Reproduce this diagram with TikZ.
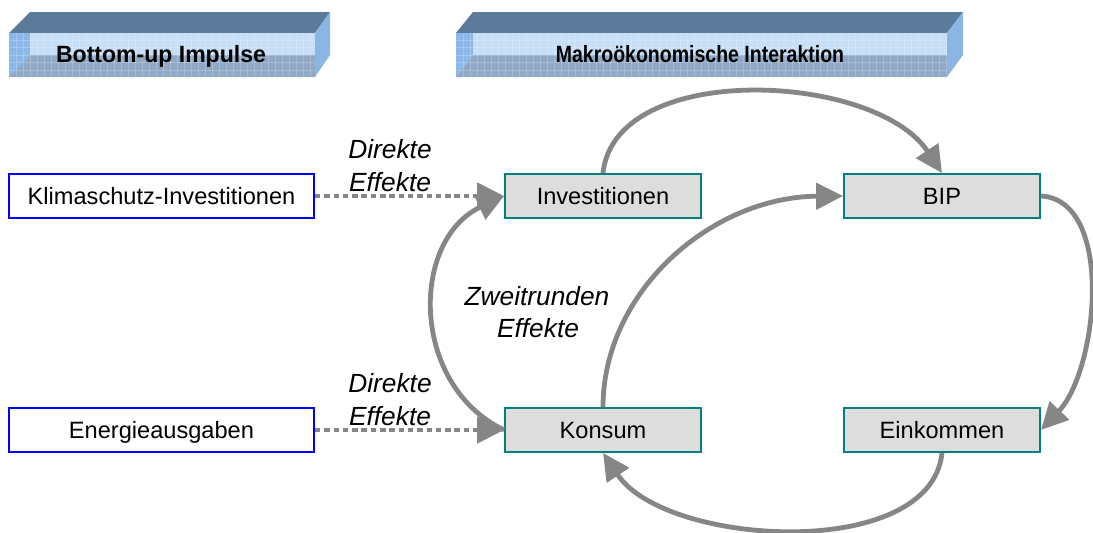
\documentclass[tikz,border=0pt]{standalone}
\usepackage{fontspec}
\setmainfont{Liberation Sans}
\usetikzlibrary{arrows.meta}
\definecolor{arrowgray}{HTML}{868686}
\definecolor{tealline}{HTML}{008080}
\definecolor{boxgray}{HTML}{DDDDDD}
\definecolor{topface}{HTML}{5C7A99}
\definecolor{frontface}{HTML}{C6DEF6}
\definecolor{bandface}{HTML}{8FA9C6}
\definecolor{leftface}{HTML}{8CB9E9}
\definecolor{sideface}{HTML}{8BB5E2}
\begin{document}
\begin{tikzpicture}[x=1pt,y=-1pt,
  macro/.style={draw=tealline, fill=boxgray, line width=1.8pt, minimum width=196pt, minimum height=44pt, inner sep=0pt, text height=17pt, text depth=0pt, font=\fontsize{23.6}{28}\selectfont},
  impulse/.style={draw=blue, fill=white, line width=1.8pt, minimum width=305pt, minimum height=44pt, inner sep=0pt, text height=17pt, text depth=0pt, font=\fontsize{23.6}{28}\selectfont},
  hdr/.style={anchor=base, inner sep=0pt, font=\bfseries\fontsize{23.5}{28}\selectfont},
  lbl/.style={anchor=base, inner sep=0pt, font=\itshape\fontsize{26.3}{30}\selectfont},
  curvearrow/.style={draw=arrowgray, line width=4.8pt, -{Triangle[length=27pt,width=26pt]}},
  dotarrow/.style={curvearrow, dash pattern=on 5.5pt off 3.8pt},
  gridline/.style={white, opacity=0.2, line width=0.6pt}
]
\useasboundingbox (0,0) rectangle (1093,533);
% left header bar
\fill[topface] (9,33) -- (30,12) -- (330,12) -- (315,33) -- cycle;
\fill[sideface] (315,33) -- (330,12) -- (330,55) -- (315,77) -- cycle;
\fill[frontface] (9,33) rectangle (315,77);
\fill[bandface] (9,77) -- (30,55) -- (315,55) -- (315,77) -- cycle;
\fill[leftface] (9,33) -- (30,33) -- (30,55) -- (9,77) -- cycle;
\foreach \yy in {40,47,55,62,70} \draw[gridline] (9,\yy) -- (315,\yy);
\foreach \xx in {16,23,...,315} \draw[gridline] (\xx,33) -- (\xx,77);
\node[hdr] (h1) at (161,62) {\scalebox{0.98}[1]{Bottom-up Impulse}};
% right header bar
\fill[topface] (456,33) -- (473,12) -- (963,12) -- (947,33) -- cycle;
\fill[sideface] (947,33) -- (963,12) -- (963,55) -- (947,77) -- cycle;
\fill[frontface] (456,33) rectangle (947,77);
\fill[bandface] (456,77) -- (473,55) -- (947,55) -- (947,77) -- cycle;
\fill[leftface] (456,33) -- (473,33) -- (473,55) -- (456,77) -- cycle;
\foreach \yy in {40,47,55,62,70} \draw[gridline] (456,\yy) -- (947,\yy);
\foreach \xx in {463,470,...,947} \draw[gridline] (\xx,33) -- (\xx,77);
\node[hdr] (h2) at (700,62) {\scalebox{0.83}[1]{Makroökonomische Interaktion}};
% boxes
\node[impulse] (klima) at (161.5,196) {Klimaschutz-Investitionen};
\node[impulse] (energie) at (161.5,430) {Energieausgaben};
\node[macro] (inv) at (603,196) {Investitionen};
\node[macro] (bip) at (942,196) {BIP};
\node[macro] (kon) at (603,430) {Konsum};
\node[macro] (ein) at (942,430) {Einkommen};
% labels
\node[lbl] (d1a) at (390,158) {Direkte};
\node[lbl] (d1b) at (390,191) {Effekte};
\node[lbl] (d2a) at (390,392) {Direkte};
\node[lbl] (d2b) at (390,425) {Effekte};
\node[lbl] (z1) at (537,305) {Zweitrunden};
\node[lbl] (z2) at (538,337) {Effekte};
% connectors
\draw[dotarrow] (klima.east) -- (inv.west);
\draw[dotarrow] (energie.east) -- (kon.west);
\draw[curvearrow] (inv.north) .. controls (615,60) and (875,72) .. (bip.north);
\draw[curvearrow] (kon.north) .. controls (603,292) and (711,197) .. (bip.west);
\draw[curvearrow] (kon.west) .. controls (410,385) and (410,240) .. (inv.west);
\draw[curvearrow] (bip.east) .. controls (1115,200) and (1098,370) .. (ein.east);
\draw[curvearrow] (ein.south) .. controls (931,562) and (666,547) .. (kon.south);
\end{tikzpicture}
\end{document}
